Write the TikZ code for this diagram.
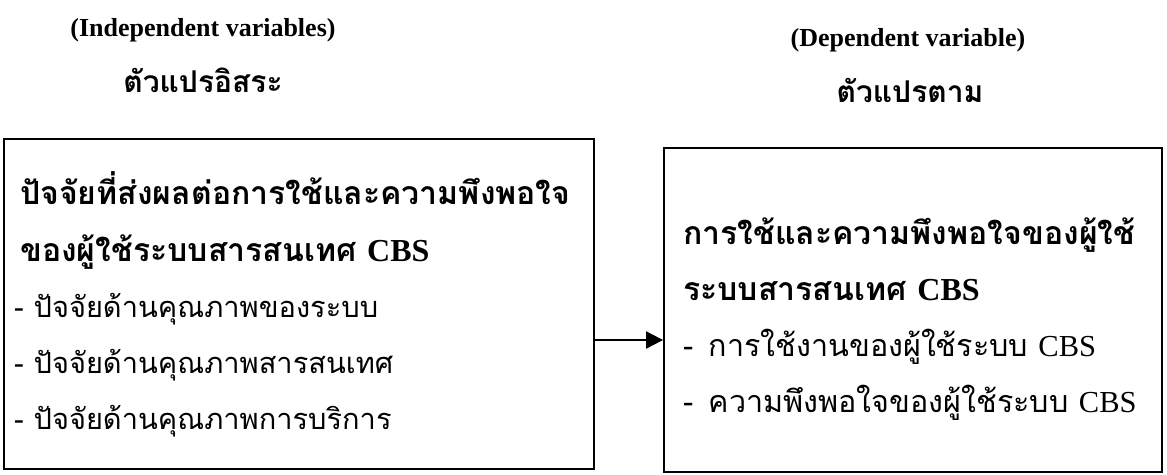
\documentclass[tikz,border=0pt]{standalone}
\usepackage{fontspec}
\setmainfont{Liberation Serif}
\newfontfamily\thaifont[Script=Thai]{Loma}
\usetikzlibrary{arrows.meta}
\begin{document}
\begin{tikzpicture}[x=1pt,y=-1pt,
  box/.style={draw,line width=1.8pt,inner sep=0pt},
  txt/.style={anchor=base west,inner sep=0pt},
  hdr/.style={anchor=base,inner sep=0pt},
  th/.style={font=\thaifont\fontsize{29}{29}\selectfont},
  thr/.style={font=\thaifont\fontsize{30.5}{30.5}\selectfont},
  thb/.style={font=\thaifont\bfseries\fontsize{32}{32}\selectfont},
  thh/.style={font=\thaifont\bfseries\fontsize{30}{30}\selectfont},
  en/.style={font=\bfseries\fontsize{26}{26}\selectfont}]
\useasboundingbox (0,0) rectangle (1167,474);
\node[hdr,en] (h1) at (203,36) {(Independent variables)};
\node[hdr,thh] (h2) at (203,92) {ตัวแปรอิสระ};
\node[hdr,en] (h3) at (908,46) {(Dependent variable)};
\node[hdr,thh] (h4) at (910,102) {ตัวแปรตาม};
\node[box,minimum width=590pt,minimum height=330pt] (L) at (299,304) {};
\node[box,minimum width=498pt,minimum height=324pt] (R) at (913,310) {};
\node[txt,thb] (l1) at (20,204) {ปัจจัยที่ส่งผลต่อการใช้และความพึงพอใจ};
\node[txt,thb] (l2) at (20,261) {ของผู้ใช้ระบบสารสนเทศ {\fontspec{Liberation Serif}\bfseries CBS}};
\node[txt,th] (l3) at (14,317) {- ปัจจัยด้านคุณภาพของระบบ};
\node[txt,th] (l4) at (14,373) {- ปัจจัยด้านคุณภาพสารสนเทศ};
\node[txt,th] (l5) at (14,429) {- ปัจจัยด้านคุณภาพการบริการ};
\node[txt,thb] (r1) at (683,244) {การใช้และความพึงพอใจของผู้ใช้};
\node[txt,thb] (r2) at (683,300) {ระบบสารสนเทศ {\fontspec{Liberation Serif}\bfseries CBS}};
\node[txt,thr] (r3) at (683,356) {-\, การใช้งานของผู้ใช้ระบบ {\fontspec{Liberation Serif}CBS}};
\node[txt,thr] (r4) at (683,412) {-\, ความพึงพอใจของผู้ใช้ระบบ {\fontspec{Liberation Serif}CBS}};
\coordinate (a) at (0,340);
\draw[line width=1.8pt,-{Triangle[length=17pt,width=17pt]}] (L.east |- a) -- (R.west |- a);
\end{tikzpicture}
\end{document}
